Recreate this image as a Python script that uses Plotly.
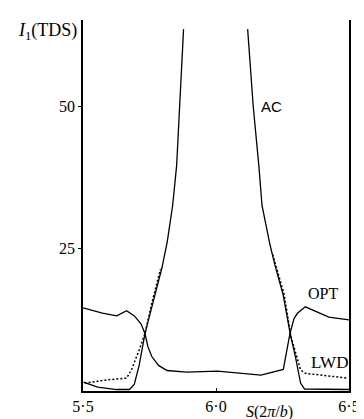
import plotly.graph_objects as go

# AC (solid): two branches rising to infinity near S=6.0
ac_s_left = [5.502, 5.555, 5.627, 5.675, 5.693, 5.711, 5.733, 5.761, 5.797, 5.817, 5.837, 5.852, 5.864, 5.878]
ac_i_left = [1.56, 0.69, 0.26, 0.26, 1.2, 4.5, 10.1, 15.3, 21.7, 26.3, 32.6, 39.6, 50.0, 63.6]
ac_s_right = [6.119, 6.140, 6.161, 6.173, 6.203, 6.221, 6.252, 6.279, 6.300, 6.318, 6.333, 6.500]
ac_i_right = [63.6, 50.0, 39.6, 32.6, 25.7, 22.2, 17.0, 10.1, 5.7, 1.4, 0.35, 0.26]

# LWD (dotted)
lwd_s_left = [5.506, 5.591, 5.664, 5.682, 5.711, 5.733, 5.758, 5.791]
lwd_i_left = [1.39, 1.96, 2.26, 3.7, 7.2, 10.1, 15.3, 21.4]
lwd_s_right = [6.213, 6.256, 6.282, 6.300, 6.318, 6.336, 6.391, 6.496]
lwd_i_right = [24.0, 17.0, 9.5, 6.6, 3.7, 3.1, 2.8, 2.26]

# OPT (solid)
opt_s = [5.500, 5.573, 5.627, 5.645, 5.664, 5.693, 5.718, 5.733, 5.744, 5.758, 5.784, 5.816,
         5.889, 6.005, 6.100, 6.169, 6.253, 6.265, 6.278, 6.293, 6.307, 6.336, 6.373, 6.424, 6.500]
opt_i = [14.6, 13.7, 13.2, 13.7, 14.1, 13.2, 11.8, 10.1, 7.8, 6.1, 4.5, 3.6,
         3.3, 3.5, 3.1, 2.8, 3.8, 6.6, 10.1, 12.7, 13.7, 14.8, 14.1, 13.0, 12.5]

x_tickvals = [5.5, 6.0, 6.5]
x_ticktext = ["5·5", "6·0", "6·5"]
y_tickvals = [25, 50]
y_ticktext = ["25", "50"]

line_style = dict(color="black", width=1.3)
fig = go.Figure()
fig.add_trace(go.Scatter(x=ac_s_left + [None] + ac_s_right, y=ac_i_left + [None] + ac_i_right,
                         mode="lines", line=line_style, connectgaps=False, name="AC"))
fig.add_trace(go.Scatter(x=lwd_s_left + [None] + lwd_s_right, y=lwd_i_left + [None] + lwd_i_right,
                         mode="lines", line=dict(color="black", width=1.5, dash="2px,2px"),
                         connectgaps=False, name="LWD"))
fig.add_trace(go.Scatter(x=opt_s, y=opt_i, mode="lines", line=line_style, name="OPT"))

serif = "Liberation Serif"
fig.update_layout(
    width=364, height=419,
    margin=dict(l=75, r=14, t=12, b=31),
    paper_bgcolor="white", plot_bgcolor="white",
    showlegend=False,
    font=dict(family=serif, size=16, color="black"),
    xaxis=dict(range=[5.5, 6.5], tickvals=x_tickvals, ticktext=x_ticktext,
               showgrid=False, zeroline=False, showline=True, linecolor="black", linewidth=1.5,
               ticks="inside", ticklen=3, tickcolor="black", mirror=False,
               tickfont=dict(family=serif, size=16)),
    yaxis=dict(range=[0, 65.2], tickvals=y_tickvals, ticktext=y_ticktext,
               showgrid=False, zeroline=False, showline=True, linecolor="black", linewidth=1.5,
               ticks="outside", ticklen=3, tickcolor="black", mirror=True,
               tickfont=dict(family=serif, size=16)),
    annotations=[
        dict(x=0, y=0.968, xref="paper", yref="paper", text="<i>I</i><sub>1</sub>(TDS)",
             showarrow=False, xanchor="right", yanchor="middle", xshift=-4,
             font=dict(family=serif, size=18)),
        dict(x=6.16, y=50.0, xref="x", yref="y", text="AC", showarrow=False,
             xanchor="left", yanchor="middle", font=dict(family="Liberation Sans", size=15)),
        dict(x=6.34, y=17.2, xref="x", yref="y", text="OPT", showarrow=False,
             xanchor="left", yanchor="middle", font=dict(family=serif, size=16)),
        dict(x=6.35, y=5.0, xref="x", yref="y", text="LWD", showarrow=False,
             xanchor="left", yanchor="middle", font=dict(family=serif, size=17)),
        dict(x=6.2, y=0, xref="x", yref="paper", text="<i>S</i>(2<i>π</i>/<i>b</i>)",
             showarrow=False, xanchor="center", yanchor="top", yshift=-10,
             font=dict(family=serif, size=16)),
    ],
)
fig.write_html("out.html")
